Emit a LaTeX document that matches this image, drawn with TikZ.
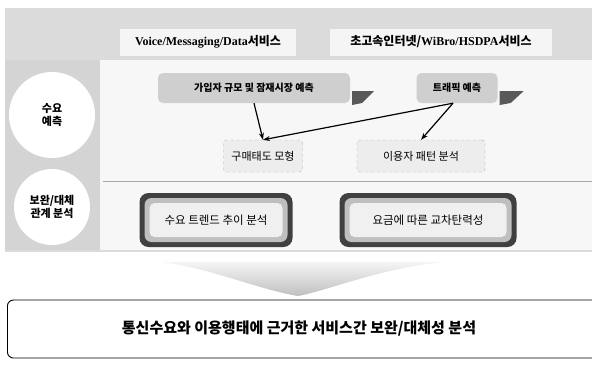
\documentclass[tikz,border=0pt]{standalone}
\usepackage{fontspec}
\setmainfont{Noto Sans CJK KR}
\newfontfamily\serifhead{Liberation Serif}
\usetikzlibrary{positioning,arrows.meta}

\begin{document}
\begin{tikzpicture}[x=1pt,y=-1pt,
    headbox/.style={fill=gray!8,minimum height=27pt,inner sep=2pt,font=\fontsize{12}{13}\selectfont\bfseries},
    sidelbl/.style={circle,fill=white,align=center,inner sep=0pt,font=\fontsize{11}{13}\selectfont\bfseries},
    topbox/.style={rounded corners=5pt,fill=gray!38,minimum height=30pt,font=\fontsize{10}{12}\selectfont\bfseries},
    tabfill/.style={fill=black!65},
    midbox/.style={rounded corners=3pt,fill=gray!14,draw=gray!65,dashed,minimum height=32pt,font=\fontsize{11}{12}\selectfont},
    darkbox/.style={rounded corners=9pt,fill=black!75,minimum height=54pt,font=\fontsize{11.5}{12}\selectfont,
      path picture={
        \fill[gray!50,rounded corners=7pt] ([shift={(5pt,-5pt)}]path picture bounding box.north west) rectangle ([shift={(-5pt,5pt)}]path picture bounding box.south east);
        \fill[gray!12,rounded corners=5pt] ([shift={(10pt,-10pt)}]path picture bounding box.north west) rectangle ([shift={(-10pt,10pt)}]path picture bounding box.south east);
      }},
    link/.style={-{Stealth[length=7pt,width=5pt]},line width=1.2pt}
  ]
  \useasboundingbox[fill=white] (0,0) rectangle (592,368);
  \fill[gray!28] (5,8) rectangle (600,252);
  \fill[gray!34] (5,60) rectangle (100,250);
  \fill[gray!6] (100,60) rectangle (600,250);
  \draw[gray!70,line width=0.8pt] (103,181) -- (600,181);

  \node[headbox,minimum width=176pt] (Voice) at (208,42) {{\serifhead Voice/Messaging/Data}서비스};
  \node[headbox,minimum width=222pt] (Wibro) at (441,42) {초고속인터넷/{\serifhead WiBro/HSDPA}서비스};

  \node[sidelbl,minimum size=86pt] (Fore) at (52,115) {수요\\예측};
  \node[sidelbl,minimum size=76pt] (Comp) at (52,207) {보완/대체\\관계 분석};

  \node[topbox,minimum width=192pt] (Sub) at (254,88) {가입자 규모 및 잠재시장 예측};
  \node[topbox,minimum width=81pt] (Traf) at (457,88) {트래픽 예측};
  \fill[tabfill] (Sub.east) ++(2,3) -- ++(22,0) -- ++(-12,12) -- ++(-10,2) -- cycle;
  \fill[tabfill] (Traf.east) ++(2,3) -- ++(24,0) -- ++(-13,12) -- ++(-11,2) -- cycle;

  \node[midbox,minimum width=79pt] (Buy) at (263,156) {구매태도 모형};
  \node[midbox,minimum width=128pt] (User) at (421,156) {이용자 패턴 분석};

  \draw[link] (Sub.south) -- (Buy.north);
  \draw[link] ([xshift=-4pt]Traf.south) -- (Buy.north);
  \draw[link] ([xshift=-4pt]Traf.south) -- (User.north);

  \node[darkbox,minimum width=153pt] (Trend) at (216,220) {수요 트렌드 추이 분석};
  \node[darkbox,minimum width=177pt] (Price) at (428,220) {요금에 따른 교차탄력성};

  \shade[top color=gray!8,bottom color=gray!50] (162,262) -- (445,262) .. controls (380,268) and (330,290) .. (298,296) .. controls (260,290) and (210,268) .. (162,262) -- cycle;

  \node[draw,rounded corners=6pt,line width=0.9pt,minimum width=600pt,minimum height=58pt,anchor=west] (ResBox) at (7,329) {};
  \node[font=\fontsize{15}{16}\selectfont\bfseries] (Result) at (299,329) {통신수요와 이용행태에 근거한 서비스간 보완/대체성 분석};
\end{tikzpicture}
\end{document}
